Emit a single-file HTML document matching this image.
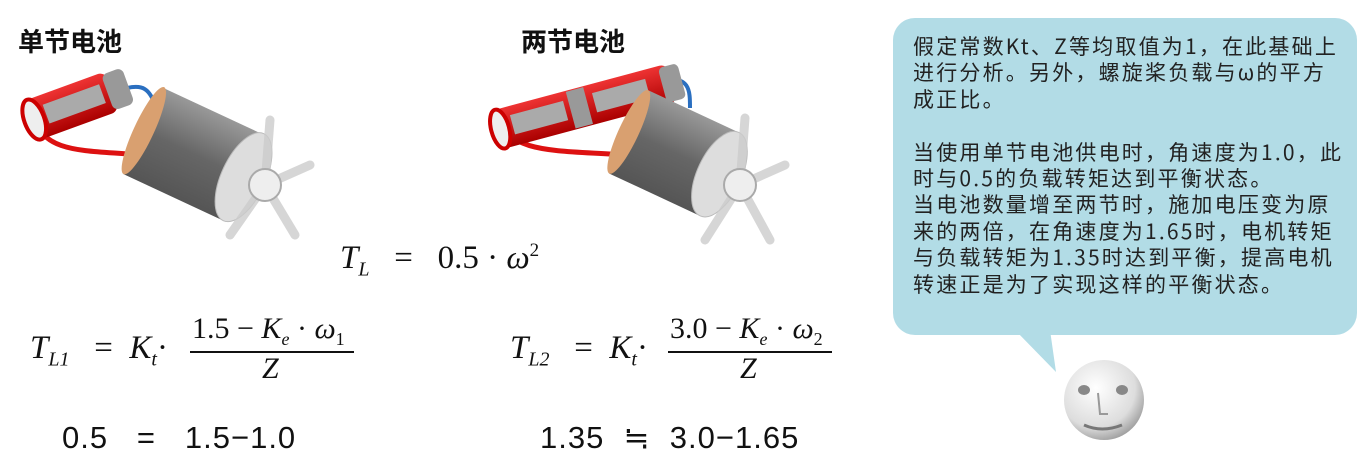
<!DOCTYPE html>
<html><head><meta charset="utf-8"><style>
body{margin:0;width:1369px;height:474px;background:#fff;position:relative;overflow:hidden;font-family:"Liberation Sans","Noto Sans CJK SC",sans-serif}
.a{position:absolute;white-space:nowrap}
.t{font-size:26px;font-weight:bold;color:#111}
.m{font-family:"Liberation Serif",serif;font-style:italic;font-size:33px;color:#111}
.m sub{font-size:20px}
.n{font-family:"Liberation Sans",sans-serif;font-size:31px;color:#111;letter-spacing:1px}
.bub{position:absolute;left:893px;top:18px;width:464px;height:317px;background:#b2dce6;border-radius:22px}
.bt{position:absolute;left:913px;top:33px;font-size:21px;letter-spacing:2.2px;line-height:26.4px;color:#222;font-family:"Noto Sans CJK SC",sans-serif}
</style></head><body>
<div class="a t" style="left:18px;top:22px">单节电池</div>
<div class="a t" style="left:521px;top:22px">两节电池</div>

<svg class="a" style="left:0;top:0" width="880" height="280">
<defs>
<linearGradient id="body" x1="0" y1="0" x2="0" y2="1"><stop offset="0" stop-color="#999"/><stop offset=".5" stop-color="#666"/><stop offset="1" stop-color="#555"/></linearGradient>
<linearGradient id="red" x1="0" y1="0" x2="0" y2="1"><stop offset="0" stop-color="#e33"/><stop offset="1" stop-color="#a00"/></linearGradient>
</defs>
<g>
<path d="M120,90 C150,80 150,95 160,115" stroke="#2a6fc0" stroke-width="4" fill="none"/>
<path d="M35,115 C40,155 90,150 140,155" stroke="#d11" stroke-width="5" fill="none"/>
<g transform="rotate(-20 80 105)">
<rect x="30" y="82" width="85" height="42" rx="8" fill="url(#red)"/>
<rect x="45" y="92" width="60" height="20" fill="#aaa"/>
<rect x="110" y="84" width="22" height="38" rx="6" fill="#999"/>
<ellipse cx="32" cy="103" rx="10" ry="21" fill="#eee" stroke="#c00" stroke-width="4"/>
</g>
<g transform="rotate(25 190 150)">
<rect x="140" y="105" width="110" height="95" fill="url(#body)"/>
<ellipse cx="140" cy="152" rx="10" ry="48" fill="#d9a070"/>
<ellipse cx="250" cy="152" rx="22" ry="48" fill="#ddd" stroke="#bbb"/>
</g>
<g stroke="#ccc" stroke-width="9" stroke-linecap="round" opacity=".8">
<line x1="265" y1="185" x2="270" y2="120"/><line x1="265" y1="185" x2="310" y2="165"/>
<line x1="265" y1="185" x2="295" y2="235"/><line x1="265" y1="185" x2="230" y2="235"/>
</g>
<circle cx="265" cy="185" r="16" fill="#eee" stroke="#aaa" stroke-width="2"/>
</g>
<g>
<path d="M660,80 C690,75 690,90 690,108" stroke="#2a6fc0" stroke-width="4" fill="none"/>
<path d="M500,115 C505,155 560,150 625,155" stroke="#d11" stroke-width="5" fill="none"/>
<g transform="rotate(-15 590 105)">
<rect x="495" y="85" width="180" height="40" rx="8" fill="url(#red)"/>
<rect x="510" y="94" width="55" height="20" fill="#aaa"/>
<rect x="595" y="94" width="55" height="20" fill="#aaa"/>
<rect x="570" y="86" width="18" height="38" fill="#999"/>
<rect x="665" y="87" width="20" height="36" rx="5" fill="#999"/>
<ellipse cx="497" cy="105" rx="9" ry="20" fill="#eee" stroke="#c00" stroke-width="4"/>
</g>
<g transform="rotate(25 670 150)">
<rect x="625" y="105" width="100" height="92" fill="url(#body)"/>
<ellipse cx="625" cy="151" rx="10" ry="46" fill="#d9a070"/>
<ellipse cx="725" cy="151" rx="22" ry="46" fill="#ddd" stroke="#bbb"/>
</g>
<g stroke="#ccc" stroke-width="9" stroke-linecap="round" opacity=".8">
<line x1="740" y1="185" x2="745" y2="118"/><line x1="740" y1="185" x2="785" y2="165"/>
<line x1="740" y1="185" x2="770" y2="240"/><line x1="740" y1="185" x2="705" y2="240"/>
</g>
<circle cx="740" cy="185" r="16" fill="#eee" stroke="#aaa" stroke-width="2"/>
</g>
</svg>

<div class="a m" style="left:340px;top:240px">T<sub>L</sub>&nbsp;&nbsp;&nbsp;<span style="font-style:normal">=</span>&nbsp;&nbsp;&nbsp;<span style="font-style:normal">0.5 ·</span> ω<sup style="font-size:19px;font-style:normal">2</sup></div>

<div class="a m" style="left:30px;top:330px">T<sub>L1</sub>&nbsp;&nbsp;&nbsp;<span style="font-style:normal">=</span>&nbsp;&nbsp;K<sub>t</sub><span style="font-style:normal">·</span></div>
<div class="a m" style="left:190px;top:312px;font-size:30px;border-bottom:2px solid #111;padding:0 2px 1px;width:160px"><span style="font-style:normal">1.5 − </span>K<sub style="font-size:18px">e</sub><span style="font-style:normal"> · </span>ω<sub style="font-style:normal;font-size:18px">1</sub></div>
<div class="a m" style="left:262px;top:352px;font-size:30px">Z</div>

<div class="a m" style="left:510px;top:330px">T<sub>L2</sub>&nbsp;&nbsp;&nbsp;<span style="font-style:normal">=</span>&nbsp;&nbsp;K<sub>t</sub><span style="font-style:normal">·</span></div>
<div class="a m" style="left:668px;top:312px;font-size:30px;border-bottom:2px solid #111;padding:0 2px 1px;width:160px"><span style="font-style:normal">3.0 − </span>K<sub style="font-size:18px">e</sub><span style="font-style:normal"> · </span>ω<sub style="font-style:normal;font-size:18px">2</sub></div>
<div class="a m" style="left:740px;top:352px;font-size:30px">Z</div>

<div class="a n" style="left:62px;top:420px">0.5&nbsp;&nbsp;&nbsp;=&nbsp;&nbsp;&nbsp;1.5−1.0</div>
<div class="a n" style="left:540px;top:420px">1.35&nbsp;&nbsp;≒&nbsp;&nbsp;3.0−1.65</div>

<div class="bub"></div>
<svg class="a" style="left:1010px;top:330px" width="60" height="50"><polygon points="5,0 40,0 46,42" fill="#b2dce6"/></svg>
<div class="bt">假定常数Kt、Z等均取值为1，在此基础上<br>进行分析。另外，螺旋桨负载与ω的平方<br>成正比。<br><br>当使用单节电池供电时，角速度为1.0，此<br>时与0.5的负载转矩达到平衡状态。<br>当电池数量增至两节时，施加电压变为原<br>来的两倍，在角速度为1.65时，电机转矩<br>与负载转矩为1.35时达到平衡，提高电机<br>转速正是为了实现这样的平衡状态。</div>

<svg class="a" style="left:1060px;top:340px" width="90" height="120">
<defs><radialGradient id="f" cx=".4" cy=".35" r=".7"><stop offset="0" stop-color="#fff"/><stop offset=".7" stop-color="#ddd"/><stop offset="1" stop-color="#999"/></radialGradient></defs>
<circle cx="44" cy="60" r="40" fill="url(#f)"/>
<ellipse cx="24" cy="50" rx="6" ry="5" fill="#888"/>
<ellipse cx="62" cy="50" rx="6" ry="5" fill="#888"/>
<path d="M38,53 L40,74 L48,74" stroke="#999" fill="none" stroke-width="2"/>
<path d="M24,85 Q42,93 62,85" stroke="#777" fill="none" stroke-width="3"/>
</svg>
</body></html>
